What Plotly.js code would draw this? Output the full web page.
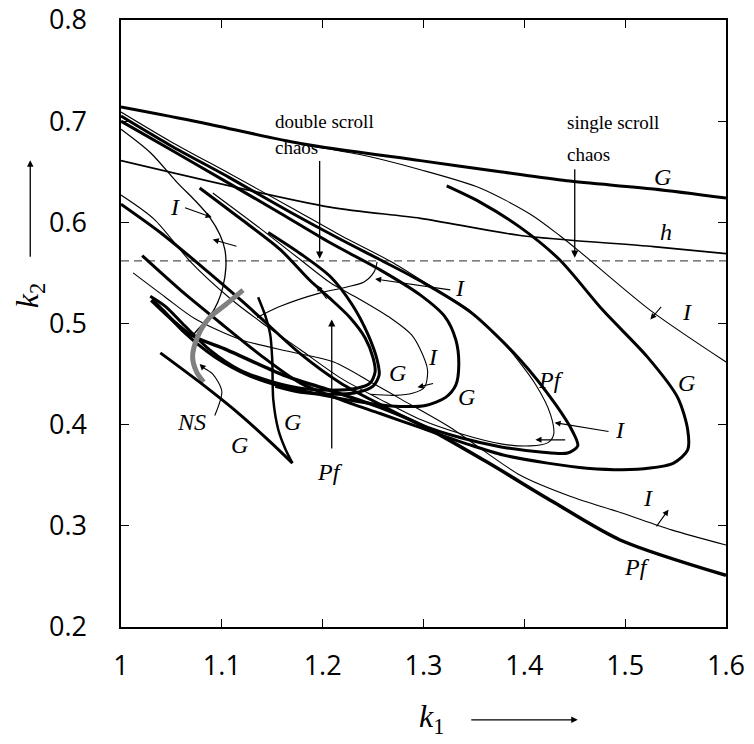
<!DOCTYPE html>
<html><head><meta charset="utf-8">
<script src="https://cdn.plot.ly/plotly-3.0.1.min.js"></script>
<style>html,body{margin:0;padding:0;background:#fff}</style>
</head><body><div id="chart" style="width:754px;height:744px"></div>
<script>
// ---- curve data (k1, k2) ----
const gTopK1 = [1.000,1.078,1.178,1.297,1.376,1.442,1.528,1.600];
const gTopK2 = [0.714,0.699,0.678,0.661,0.650,0.641,0.633,0.624];

const hK1 = [1.000,1.207,1.297,1.396,1.528,1.600];
const hK2 = [0.661,0.615,0.604,0.587,0.576,0.569];

const chaosK1 = [1.0,1.6];
const chaosK2 = [0.562,0.562];

const iRightK1 = [1.178,1.237,1.297,1.356,1.406,1.435,1.455,1.525,1.600];
const iRightK2 = [0.677,0.667,0.652,0.634,0.608,0.587,0.571,0.513,0.462];

const gRightK1 = [1.323,1.356,1.396,1.435,1.478,1.522,1.552,1.562,1.562,1.548,1.512,1.462,1.423,1.379,1.346,1.297,1.257,1.217,1.178,1.138,1.098,1.059,1.021];
const gRightK2 = [0.636,0.620,0.595,0.563,0.513,0.467,0.427,0.395,0.375,0.362,0.356,0.357,0.362,0.370,0.380,0.397,0.411,0.425,0.441,0.469,0.501,0.533,0.567];

const pfLoopK1 = [1.000,1.049,1.108,1.168,1.218,1.257,1.297,1.347,1.396,1.431,1.448,1.453,1.443,1.416,1.377,1.337,1.297,1.257,1.218,1.178,1.138,1.119,1.078,1.039,1.000];
const pfLoopK2 = [0.705,0.676,0.644,0.610,0.583,0.563,0.542,0.511,0.464,0.420,0.393,0.379,0.372,0.373,0.378,0.387,0.400,0.420,0.441,0.470,0.506,0.523,0.558,0.590,0.618];

const iPfK1 = [1.000,1.049,1.108,1.168,1.218,1.268,1.307,1.347,1.381,1.411,1.426,1.429,1.423,1.406,1.377,1.337,1.297,1.257,1.218,1.178,1.138,1.108,1.069,1.033,1.000];
const iPfK2 = [0.709,0.680,0.648,0.615,0.587,0.561,0.537,0.512,0.479,0.440,0.410,0.390,0.382,0.379,0.381,0.391,0.405,0.425,0.446,0.474,0.502,0.525,0.561,0.603,0.627];

const iLowK1 = [1.012,1.044,1.073,1.119,1.168,1.211,1.248,1.278,1.327,1.396,1.446,1.496,1.546,1.600];
const iLowK2 = [0.550,0.526,0.505,0.484,0.472,0.462,0.442,0.425,0.397,0.350,0.329,0.313,0.296,0.281];

const pfLowK1 = [1.030,1.069,1.105,1.161,1.207,1.257,1.297,1.363,1.428,1.495,1.600];
const pfLowK2 = [0.523,0.489,0.474,0.449,0.434,0.417,0.400,0.363,0.324,0.286,0.251];

const gMidK1 = [1.000,1.049,1.108,1.158,1.207,1.257,1.297,1.321,1.332,1.335,1.332,1.322,1.302,1.277,1.247,1.217,1.187,1.158,1.128,1.093,1.063,1.041,1.031];
const gMidK2 = [0.700,0.672,0.638,0.609,0.580,0.553,0.528,0.507,0.484,0.459,0.439,0.427,0.419,0.418,0.421,0.426,0.432,0.438,0.448,0.467,0.491,0.514,0.524];

const gInK1 = [1.078,1.118,1.158,1.187,1.207,1.227,1.242,1.250,1.252,1.247,1.234,1.207,1.178,1.148,1.118,1.088,1.063,1.044,1.029];
const gInK2 = [0.634,0.604,0.573,0.543,0.525,0.506,0.486,0.466,0.452,0.441,0.436,0.434,0.436,0.443,0.454,0.474,0.498,0.517,0.527];

const gShortK1 = [1.146,1.178,1.208,1.229,1.245,1.254,1.256,1.250,1.235,1.208,1.178,1.153];
const gShortK2 = [0.590,0.569,0.546,0.519,0.489,0.464,0.449,0.438,0.432,0.430,0.432,0.438];

const iMidK1 = [1.091,1.138,1.178,1.208,1.235,1.268,1.288,1.297,1.304,1.301,1.289,1.272,1.247];
const iMidK2 = [0.629,0.594,0.563,0.540,0.525,0.505,0.489,0.474,0.454,0.437,0.431,0.429,0.430];

const iCurveK1 = [1.254,1.251,1.241,1.224,1.197,1.158,1.135];
const iCurveK2 = [0.561,0.551,0.541,0.536,0.530,0.517,0.506];

const iArcK1 = [1.000,1.029,1.056,1.073,1.088,1.098,1.103,1.104,1.101,1.096,1.088,1.078,1.070];
const iArcK2 = [0.692,0.669,0.639,0.622,0.605,0.588,0.573,0.555,0.536,0.521,0.507,0.496,0.487];

const nsK1 = [1.121,1.103,1.088,1.076,1.071,1.075,1.082];
const nsK2 = [0.533,0.518,0.506,0.487,0.467,0.452,0.442];

const gNsLowK1 = [1.039,1.078,1.118,1.148,1.170];
const gNsLowK2 = [0.471,0.442,0.410,0.383,0.362];

const gVertK1 = [1.136,1.143,1.148,1.150,1.151,1.156,1.163,1.170];
const gVertK2 = [0.526,0.508,0.489,0.464,0.425,0.395,0.376,0.362];

const nsArrowK1 = [1.093,1.100,1.091,1.082];
const nsArrowK2 = [0.409,0.433,0.450,0.456];

// tick labels
const xTicks = [1,1.1,1.2,1.3,1.4,1.5,1.6];
const xTickText = ['1','1.1','1.2','1.3','1.4','1.5','1.6'];
const yTicks = [0.2,0.3,0.4,0.5,0.6,0.7,0.8];
const yTickText = ['0.2','0.3','0.4','0.5','0.6','0.7','0.8'];

// ---- traces ----
const THICK = 3, THIN = 1.1;
function tr(x, y, w, color, dash, shape) {
  return {x: x, y: y, mode: 'lines', type: 'scatter', hoverinfo: 'skip',
    line: {width: w, color: color || '#000', dash: dash || 'solid', shape: shape || 'spline', smoothing: 0.8}};
}
const data = [
  tr(chaosK1, chaosK2, 1.3, '#555', '8px,5px', 'linear'),
  tr(gTopK1, gTopK2, THICK),
  tr(hK1, hK2, 1.7),
  tr(iRightK1, iRightK2, THIN),
  tr(gRightK1, gRightK2, THICK),
  tr(pfLoopK1, pfLoopK2, THICK),
  tr(iPfK1, iPfK2, THIN),
  tr(iLowK1, iLowK2, THIN),
  tr(pfLowK1, pfLowK2, THICK + 0.5),
  tr(gMidK1, gMidK2, THICK),
  tr(gInK1, gInK2, THICK),
  tr(gShortK1, gShortK2, THICK),
  tr(iMidK1, iMidK2, THIN),
  tr(iCurveK1, iCurveK2, THIN),
  tr(iArcK1, iArcK2, 1.3),
  tr(nsK1, nsK2, 5, '#808080'),
  tr(gNsLowK1, gNsLowK2, THICK),
  tr(gVertK1, gVertK2, THICK - 0.5),
  tr(nsArrowK1, nsArrowK2, 1.1)
];

// ---- annotations ----
const SERIF = 'Liberation Serif, DejaVu Serif, serif';
function lab(x, y, t, size) {
  return {x: x, y: y, xref: 'x', yref: 'y', text: '<i>' + t + '</i>', showarrow: false,
    font: {family: SERIF, size: size || 24, color: '#000'}};
}
function arr(x, y, ax, ay, w) {
  return {x: x, y: y, ax: ax, ay: ay, xref: 'x', yref: 'y', axref: 'x', ayref: 'y', text: '',
    showarrow: true, arrowhead: 2, arrowsize: 1.1, arrowwidth: w || 1.1, arrowcolor: '#000'};
}
function txt(x, y, t) {
  return {x: x, y: y, xref: 'x', yref: 'y', text: t, showarrow: false, xanchor: 'left',
    font: {family: SERIF, size: 19, color: '#000'}};
}
const annotations = [
  lab(1.537, 0.645, 'G'), lab(1.540, 0.590, 'h'), lab(1.561, 0.511, 'I'),
  lab(1.561, 0.441, 'G'), lab(1.426, 0.444, 'Pf'), lab(1.495, 0.395, 'I'),
  lab(1.523, 0.328, 'I'), lab(1.512, 0.259, 'Pf'), lab(1.343, 0.427, 'G'),
  lab(1.309, 0.467, 'I'), lab(1.274, 0.451, 'G'), lab(1.336, 0.535, 'I'),
  lab(1.054, 0.615, 'I'), lab(1.070, 0.403, 'NS'), lab(1.118, 0.380, 'G'),
  lab(1.170, 0.403, 'G'), lab(1.207, 0.353, 'Pf'),
  txt(1.151, 0.700, 'double scroll'), txt(1.151, 0.674, 'chaos'),
  txt(1.440, 0.699, 'single scroll'), txt(1.440, 0.667, 'chaos'),
  arr(1.197, 0.564, 1.197, 0.662, 1.3),
  arr(1.450, 0.565, 1.450, 0.654, 1.3),
  arr(1.209, 0.504, 1.209, 0.375, 1.3),
  arr(1.090, 0.605, 1.062, 0.615),
  arr(1.091, 0.583, 1.116, 0.576),
  arr(1.252, 0.544, 1.328, 0.533),
  arr(1.194, 0.538, 1.205, 0.523),
  arr(1.294, 0.437, 1.311, 0.441),
  arr(1.430, 0.402, 1.485, 0.393),
  arr(1.411, 0.385, 1.442, 0.385),
  arr(1.525, 0.504, 1.537, 0.518),
  arr(1.543, 0.316, 1.530, 0.298),
  arr(1.078, 0.460, 1.082, 0.456),
  // axis titles with arrows
  {xref: 'paper', yref: 'paper', x: -0.152, y: 0.545, xanchor: 'center', yanchor: 'middle',
    text: '<i>k</i><sub>2</sub>', textangle: -90,
    showarrow: false, font: {family: SERIF, size: 32, color: '#000'}},
  {xref: 'paper', yref: 'paper', x: -0.150, y: 0.769, ax: 0, ay: 98, text: '', showarrow: true,
    arrowhead: 2, arrowsize: 1, arrowwidth: 1.3, arrowcolor: '#000'},
  {xref: 'paper', yref: 'paper', x: 0.514, y: -0.150, xanchor: 'center', yanchor: 'middle',
    text: '<i>k</i><sub>1</sub>',
    showarrow: false, font: {family: SERIF, size: 32, color: '#000'}},
  {xref: 'paper', yref: 'paper', x: 0.755, y: -0.153, ax: -108, ay: 0, text: '', showarrow: true,
    arrowhead: 2, arrowsize: 1, arrowwidth: 1.3, arrowcolor: '#000'}
];

const axisCommon = {showgrid: false, zeroline: false, showline: true, mirror: 'ticks', linewidth: 1.6,
  linecolor: '#000', ticks: 'inside', ticklen: 8, tickwidth: 1.3, tickcolor: '#000',
  tickfont: {family: 'Open Sans, Noto Sans, sans-serif', size: 27, color: '#000'}};

const layout = {
  width: 754, height: 744, showlegend: false,
  margin: {l: 121, r: 28, t: 20, b: 117},
  paper_bgcolor: '#fff', plot_bgcolor: '#fff',
  xaxis: Object.assign({}, axisCommon, {range: [1, 1.6], tickvals: xTicks, ticktext: xTickText, ticklabelstandoff: 14}),
  yaxis: Object.assign({}, axisCommon, {range: [0.2, 0.8], tickvals: yTicks, ticktext: yTickText, ticklabelstandoff: 27}),
  annotations: annotations
};

Plotly.newPlot('chart', data, layout, {displayModeBar: false, staticPlot: true});
</script></body></html>
